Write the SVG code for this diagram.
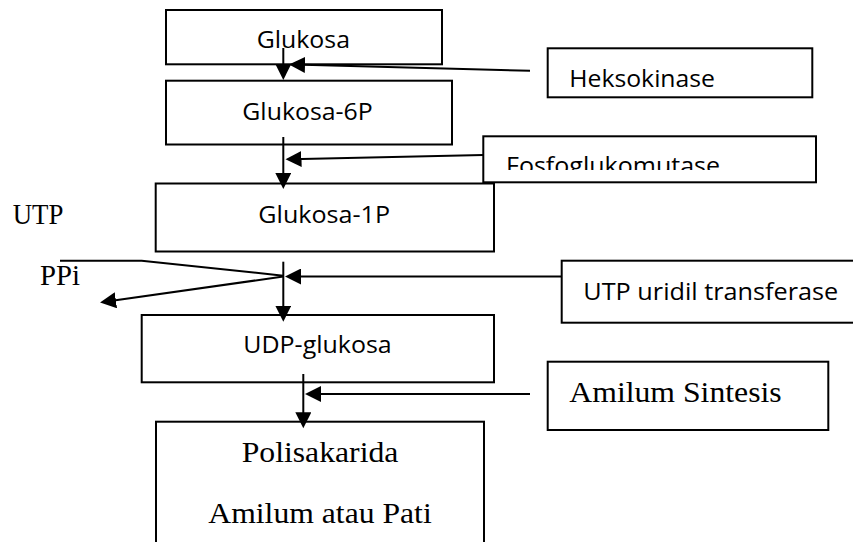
<svg xmlns="http://www.w3.org/2000/svg" width="853" height="542" viewBox="0 0 853 542">
<style>
.box{fill:#fff;stroke:#000;stroke-width:2}
.sans{font-family:'Open Sans','Liberation Sans',Arial,sans-serif;font-size:24px;fill:#000}
.serif{font-family:'Liberation Serif','Times New Roman',Times,Tinos,serif;font-size:30px;fill:#000}
.ln{fill:none;stroke:#000;stroke-width:2}
</style>
<defs>
<marker id="ah" markerUnits="userSpaceOnUse" markerWidth="17" markerHeight="16" refX="11" refY="8" orient="auto">
<path d="M0,0 L16,8 L0,16 z" fill="#000"/>
</marker>
<clipPath id="fosclip"><rect x="484" y="137" width="331" height="33"/></clipPath>
</defs>
<rect width="853" height="542" fill="#fff"/>

<g id="glukosa">
<rect class="box" x="166" y="10" width="276" height="54.3"/>
<text class="sans" x="256.7" y="48" textLength="93.3" lengthAdjust="spacingAndGlyphs">Glukosa</text>
</g>
<g id="glukosa6p">
<rect class="box" x="166" y="80.7" width="286" height="63.8"/>
<text class="sans" x="242.3" y="120" textLength="130.4" lengthAdjust="spacingAndGlyphs">Glukosa-6P</text>
</g>
<g id="heksokinase">
<rect class="box" x="547.7" y="48.3" width="264.6" height="49"/>
<text class="sans" x="569.3" y="86.7" textLength="145.7" lengthAdjust="spacingAndGlyphs">Heksokinase</text>
</g>
<g id="glukosa1p">
<rect class="box" x="155.7" y="183.5" width="338.3" height="68"/>
<text class="sans" x="258.3" y="222.7" textLength="131.7" lengthAdjust="spacingAndGlyphs">Glukosa-1P</text>
</g>
<g id="fosfoglukomutase">
<rect class="box" x="483.3" y="136.3" width="332.7" height="46"/>
<text class="sans" x="506" y="174" textLength="214" lengthAdjust="spacingAndGlyphs" clip-path="url(#fosclip)">Fosfoglukomutase</text>
</g>
<g id="utp">
<text class="serif" x="12.7" y="224.3" style="font-size:28.5px" textLength="50.7" lengthAdjust="spacingAndGlyphs">UTP</text>
</g>
<g id="ppi">
<text class="serif" x="40" y="285" style="font-size:28.5px" textLength="40" lengthAdjust="spacingAndGlyphs">PPi</text>
</g>
<g id="utpuridil">
<rect class="box" x="561.7" y="260.7" width="300" height="62"/>
<text class="sans" x="583.3" y="300" textLength="255" lengthAdjust="spacingAndGlyphs">UTP uridil transferase</text>
</g>
<g id="udpglukosa">
<rect class="box" x="141.7" y="315" width="352.3" height="67.3"/>
<text class="sans" x="243.3" y="353.3" textLength="148.4" lengthAdjust="spacingAndGlyphs">UDP-glukosa</text>
</g>
<g id="amilumsintesis">
<rect class="box" x="547.7" y="361.7" width="280.6" height="68.3"/>
<text class="serif" x="569.3" y="401.7" textLength="212.4" lengthAdjust="spacingAndGlyphs">Amilum Sintesis</text>
</g>
<g id="polisakarida">
<rect class="box" x="156" y="421.7" width="328" height="140"/>
<text class="serif" x="241.7" y="461.7" textLength="156.7" lengthAdjust="spacingAndGlyphs">Polisakarida</text>
<text class="serif" x="208.3" y="523.3" textLength="223.4" lengthAdjust="spacingAndGlyphs">Amilum atau Pati</text>
</g>

<g id="connectors">
<line class="ln" x1="283.3" y1="48" x2="283.3" y2="75" marker-end="url(#ah)"/>
<line class="ln" x1="530" y1="70.7" x2="294" y2="64.6" marker-end="url(#ah)"/>
<line class="ln" x1="283.3" y1="137" x2="283.3" y2="184" marker-end="url(#ah)"/>
<line class="ln" x1="483.3" y1="155" x2="290.5" y2="159.2" marker-end="url(#ah)"/>
<polyline class="ln" points="60,260.7 141.7,260.7 283.3,275.7"/>
<line class="ln" x1="283.3" y1="276.5" x2="105" y2="301.8" marker-end="url(#ah)"/>
<line class="ln" x1="283.3" y1="261.7" x2="283.3" y2="316.7" marker-end="url(#ah)"/>
<line class="ln" x1="561.7" y1="276.5" x2="290" y2="276.5" marker-end="url(#ah)"/>
<line class="ln" x1="303.3" y1="374" x2="303.3" y2="423.3" marker-end="url(#ah)"/>
<line class="ln" x1="530" y1="394" x2="310" y2="394" marker-end="url(#ah)"/>
</g>
</svg>
